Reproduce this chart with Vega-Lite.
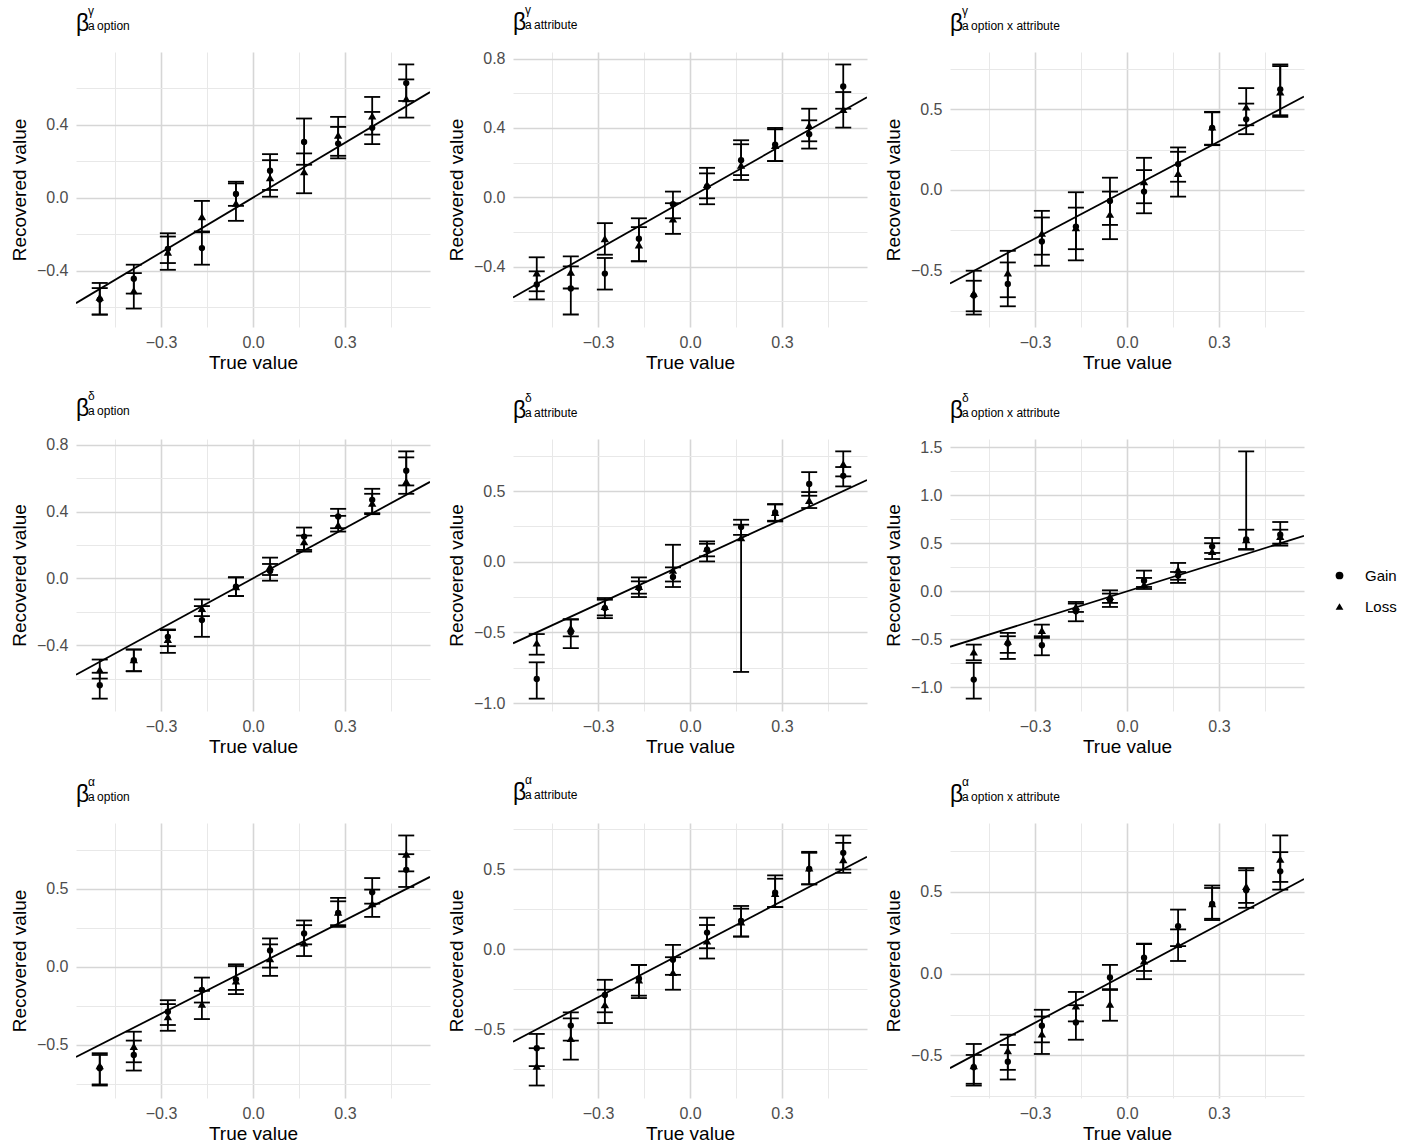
{
  "$schema": "https://vega.github.io/schema/vega-lite/v6.json",
  "background": "white",
  "padding": {"left": 10, "top": 3, "right": 5, "bottom": 5},
  "datasets": {
    "identity": [{"truth": -0.5775, "est": -0.5775}, {"truth": 0.5775, "est": 0.5775}],
    "estimates": [
      {"panel": "gamma option", "truth": -0.5, "group": "Gain", "est": -0.558, "lo": -0.64, "hi": -0.467},
      {"panel": "gamma option", "truth": -0.5, "group": "Loss", "est": -0.545, "lo": -0.64, "hi": -0.495},
      {"panel": "gamma option", "truth": -0.3889, "group": "Gain", "est": -0.444, "lo": -0.525, "hi": -0.367},
      {"panel": "gamma option", "truth": -0.3889, "group": "Loss", "est": -0.509, "lo": -0.607, "hi": -0.413},
      {"panel": "gamma option", "truth": -0.2778, "group": "Gain", "est": -0.28, "lo": -0.358, "hi": -0.195},
      {"panel": "gamma option", "truth": -0.2778, "group": "Loss", "est": -0.298, "lo": -0.395, "hi": -0.213},
      {"panel": "gamma option", "truth": -0.1667, "group": "Gain", "est": -0.276, "lo": -0.367, "hi": -0.185},
      {"panel": "gamma option", "truth": -0.1667, "group": "Loss", "est": -0.104, "lo": -0.19, "hi": -0.018},
      {"panel": "gamma option", "truth": -0.0556, "group": "Gain", "est": 0.02, "lo": -0.045, "hi": 0.087},
      {"panel": "gamma option", "truth": -0.0556, "group": "Loss", "est": -0.03, "lo": -0.127, "hi": 0.078},
      {"panel": "gamma option", "truth": 0.0556, "group": "Gain", "est": 0.147, "lo": 0.042, "hi": 0.238},
      {"panel": "gamma option", "truth": 0.0556, "group": "Loss", "est": 0.109, "lo": 0.005, "hi": 0.205},
      {"panel": "gamma option", "truth": 0.1667, "group": "Gain", "est": 0.305, "lo": 0.18, "hi": 0.433},
      {"panel": "gamma option", "truth": 0.1667, "group": "Loss", "est": 0.142, "lo": 0.024, "hi": 0.242},
      {"panel": "gamma option", "truth": 0.2778, "group": "Gain", "est": 0.296, "lo": 0.215, "hi": 0.387},
      {"panel": "gamma option", "truth": 0.2778, "group": "Loss", "est": 0.342, "lo": 0.229, "hi": 0.442},
      {"panel": "gamma option", "truth": 0.3889, "group": "Gain", "est": 0.382, "lo": 0.293, "hi": 0.469},
      {"panel": "gamma option", "truth": 0.3889, "group": "Loss", "est": 0.447, "lo": 0.345, "hi": 0.551},
      {"panel": "gamma option", "truth": 0.5, "group": "Gain", "est": 0.627, "lo": 0.529, "hi": 0.729},
      {"panel": "gamma option", "truth": 0.5, "group": "Loss", "est": 0.542, "lo": 0.438, "hi": 0.647},

      {"panel": "gamma attribute", "truth": -0.5, "group": "Gain", "est": -0.503, "lo": -0.589, "hi": -0.427},
      {"panel": "gamma attribute", "truth": -0.5, "group": "Loss", "est": -0.436, "lo": -0.542, "hi": -0.346},
      {"panel": "gamma attribute", "truth": -0.3889, "group": "Gain", "est": -0.526, "lo": -0.676, "hi": -0.398},
      {"panel": "gamma attribute", "truth": -0.3889, "group": "Loss", "est": -0.431, "lo": -0.526, "hi": -0.341},
      {"panel": "gamma attribute", "truth": -0.2778, "group": "Gain", "est": -0.44, "lo": -0.532, "hi": -0.35},
      {"panel": "gamma attribute", "truth": -0.2778, "group": "Loss", "est": -0.239, "lo": -0.331, "hi": -0.149},
      {"panel": "gamma attribute", "truth": -0.1667, "group": "Gain", "est": -0.239, "lo": -0.369, "hi": -0.121},
      {"panel": "gamma attribute", "truth": -0.1667, "group": "Loss", "est": -0.274, "lo": -0.369, "hi": -0.172},
      {"panel": "gamma attribute", "truth": -0.0556, "group": "Gain", "est": -0.04, "lo": -0.121, "hi": 0.033},
      {"panel": "gamma attribute", "truth": -0.0556, "group": "Loss", "est": -0.124, "lo": -0.211, "hi": -0.034},
      {"panel": "gamma attribute", "truth": 0.0556, "group": "Gain", "est": 0.061, "lo": -0.04, "hi": 0.17},
      {"panel": "gamma attribute", "truth": 0.0556, "group": "Loss", "est": 0.075, "lo": -0.006, "hi": 0.138},
      {"panel": "gamma attribute", "truth": 0.1667, "group": "Gain", "est": 0.214, "lo": 0.1, "hi": 0.329},
      {"panel": "gamma attribute", "truth": 0.1667, "group": "Loss", "est": 0.186, "lo": 0.128, "hi": 0.306},
      {"panel": "gamma attribute", "truth": 0.2778, "group": "Gain", "est": 0.304, "lo": 0.209, "hi": 0.4},
      {"panel": "gamma attribute", "truth": 0.2778, "group": "Loss", "est": 0.3, "lo": 0.209, "hi": 0.392},
      {"panel": "gamma attribute", "truth": 0.3889, "group": "Gain", "est": 0.364, "lo": 0.281, "hi": 0.444},
      {"panel": "gamma attribute", "truth": 0.3889, "group": "Loss", "est": 0.415, "lo": 0.323, "hi": 0.511},
      {"panel": "gamma attribute", "truth": 0.5, "group": "Gain", "est": 0.639, "lo": 0.511, "hi": 0.766},
      {"panel": "gamma attribute", "truth": 0.5, "group": "Loss", "est": 0.507, "lo": 0.402, "hi": 0.607},

      {"panel": "gamma interaction", "truth": -0.5, "group": "Gain", "est": -0.653, "lo": -0.77, "hi": -0.561},
      {"panel": "gamma interaction", "truth": -0.5, "group": "Loss", "est": -0.637, "lo": -0.75, "hi": -0.499},
      {"panel": "gamma interaction", "truth": -0.3889, "group": "Gain", "est": -0.581, "lo": -0.719, "hi": -0.448},
      {"panel": "gamma interaction", "truth": -0.3889, "group": "Loss", "est": -0.513, "lo": -0.663, "hi": -0.376},
      {"panel": "gamma interaction", "truth": -0.2778, "group": "Gain", "est": -0.318, "lo": -0.468, "hi": -0.17},
      {"panel": "gamma interaction", "truth": -0.2778, "group": "Loss", "est": -0.267, "lo": -0.4, "hi": -0.129},
      {"panel": "gamma interaction", "truth": -0.1667, "group": "Gain", "est": -0.226, "lo": -0.435, "hi": -0.014},
      {"panel": "gamma interaction", "truth": -0.1667, "group": "Loss", "est": -0.232, "lo": -0.366, "hi": -0.109},
      {"panel": "gamma interaction", "truth": -0.0556, "group": "Gain", "est": -0.068, "lo": -0.216, "hi": 0.076},
      {"panel": "gamma interaction", "truth": -0.0556, "group": "Loss", "est": -0.15, "lo": -0.304, "hi": -0.01},
      {"panel": "gamma interaction", "truth": 0.0556, "group": "Gain", "est": -0.01, "lo": -0.144, "hi": 0.123},
      {"panel": "gamma interaction", "truth": 0.0556, "group": "Loss", "est": 0.051, "lo": -0.082, "hi": 0.199},
      {"panel": "gamma interaction", "truth": 0.1667, "group": "Gain", "est": 0.16, "lo": 0.051, "hi": 0.263},
      {"panel": "gamma interaction", "truth": 0.1667, "group": "Loss", "est": 0.103, "lo": -0.041, "hi": 0.236},
      {"panel": "gamma interaction", "truth": 0.2778, "group": "Gain", "est": 0.384, "lo": 0.277, "hi": 0.483},
      {"panel": "gamma interaction", "truth": 0.2778, "group": "Loss", "est": 0.39, "lo": 0.28, "hi": 0.48},
      {"panel": "gamma interaction", "truth": 0.3889, "group": "Gain", "est": 0.437, "lo": 0.345, "hi": 0.534},
      {"panel": "gamma interaction", "truth": 0.3889, "group": "Loss", "est": 0.513, "lo": 0.4, "hi": 0.63},
      {"panel": "gamma interaction", "truth": 0.5, "group": "Gain", "est": 0.622, "lo": 0.452, "hi": 0.776},
      {"panel": "gamma interaction", "truth": 0.5, "group": "Loss", "est": 0.606, "lo": 0.462, "hi": 0.766},

      {"panel": "delta option", "truth": -0.5, "group": "Gain", "est": -0.64, "lo": -0.72, "hi": -0.565},
      {"panel": "delta option", "truth": -0.5, "group": "Loss", "est": -0.546, "lo": -0.6, "hi": -0.486},
      {"panel": "delta option", "truth": -0.3889, "group": "Gain", "est": -0.49, "lo": -0.556, "hi": -0.426},
      {"panel": "delta option", "truth": -0.3889, "group": "Loss", "est": -0.486, "lo": -0.556, "hi": -0.426},
      {"panel": "delta option", "truth": -0.2778, "group": "Gain", "est": -0.35, "lo": -0.406, "hi": -0.306},
      {"panel": "delta option", "truth": -0.2778, "group": "Loss", "est": -0.365, "lo": -0.446, "hi": -0.31},
      {"panel": "delta option", "truth": -0.1667, "group": "Gain", "est": -0.25, "lo": -0.35, "hi": -0.166},
      {"panel": "delta option", "truth": -0.1667, "group": "Loss", "est": -0.18, "lo": -0.226, "hi": -0.126},
      {"panel": "delta option", "truth": -0.0556, "group": "Gain", "est": -0.05, "lo": -0.106, "hi": 0.006},
      {"panel": "delta option", "truth": -0.0556, "group": "Loss", "est": -0.05, "lo": -0.106, "hi": 0.006},
      {"panel": "delta option", "truth": 0.0556, "group": "Gain", "est": 0.044, "lo": -0.014, "hi": 0.086},
      {"panel": "delta option", "truth": 0.0556, "group": "Loss", "est": 0.07, "lo": 0.02, "hi": 0.124},
      {"panel": "delta option", "truth": 0.1667, "group": "Gain", "est": 0.25, "lo": 0.17, "hi": 0.304},
      {"panel": "delta option", "truth": 0.1667, "group": "Loss", "est": 0.22, "lo": 0.16, "hi": 0.256},
      {"panel": "delta option", "truth": 0.2778, "group": "Gain", "est": 0.37, "lo": 0.3, "hi": 0.416},
      {"panel": "delta option", "truth": 0.2778, "group": "Loss", "est": 0.32, "lo": 0.28, "hi": 0.374},
      {"panel": "delta option", "truth": 0.3889, "group": "Gain", "est": 0.47, "lo": 0.39, "hi": 0.536},
      {"panel": "delta option", "truth": 0.3889, "group": "Loss", "est": 0.45, "lo": 0.384, "hi": 0.506},
      {"panel": "delta option", "truth": 0.5, "group": "Gain", "est": 0.644, "lo": 0.556, "hi": 0.76},
      {"panel": "delta option", "truth": 0.5, "group": "Loss", "est": 0.58, "lo": 0.506, "hi": 0.724},

      {"panel": "delta attribute", "truth": -0.5, "group": "Gain", "est": -0.83, "lo": -0.969, "hi": -0.712},
      {"panel": "delta attribute", "truth": -0.5, "group": "Loss", "est": -0.575, "lo": -0.658, "hi": -0.512},
      {"panel": "delta attribute", "truth": -0.3889, "group": "Gain", "est": -0.5, "lo": -0.611, "hi": -0.41},
      {"panel": "delta attribute", "truth": -0.3889, "group": "Loss", "est": -0.47, "lo": -0.528, "hi": -0.406},
      {"panel": "delta attribute", "truth": -0.2778, "group": "Gain", "est": -0.328, "lo": -0.399, "hi": -0.269},
      {"panel": "delta attribute", "truth": -0.2778, "group": "Loss", "est": -0.316, "lo": -0.38, "hi": -0.257},
      {"panel": "delta attribute", "truth": -0.1667, "group": "Gain", "est": -0.186, "lo": -0.25, "hi": -0.139},
      {"panel": "delta attribute", "truth": -0.1667, "group": "Loss", "est": -0.175, "lo": -0.226, "hi": -0.111},
      {"panel": "delta attribute", "truth": -0.0556, "group": "Gain", "est": -0.108, "lo": -0.179, "hi": -0.04},
      {"panel": "delta attribute", "truth": -0.0556, "group": "Loss", "est": -0.06, "lo": -0.14, "hi": 0.12},
      {"panel": "delta attribute", "truth": 0.0556, "group": "Gain", "est": 0.085, "lo": 0.002, "hi": 0.144},
      {"panel": "delta attribute", "truth": 0.0556, "group": "Loss", "est": 0.097, "lo": 0.038, "hi": 0.127},
      {"panel": "delta attribute", "truth": 0.1667, "group": "Gain", "est": 0.245, "lo": 0.19, "hi": 0.262},
      {"panel": "delta attribute", "truth": 0.1667, "group": "Loss", "est": 0.17, "lo": -0.78, "hi": 0.297},
      {"panel": "delta attribute", "truth": 0.2778, "group": "Gain", "est": 0.349, "lo": 0.285, "hi": 0.408},
      {"panel": "delta attribute", "truth": 0.2778, "group": "Loss", "est": 0.35, "lo": 0.29, "hi": 0.405},
      {"panel": "delta attribute", "truth": 0.3889, "group": "Gain", "est": 0.55, "lo": 0.467, "hi": 0.634},
      {"panel": "delta attribute", "truth": 0.3889, "group": "Loss", "est": 0.434, "lo": 0.38, "hi": 0.493},
      {"panel": "delta attribute", "truth": 0.5, "group": "Gain", "est": 0.608, "lo": 0.533, "hi": 0.67},
      {"panel": "delta attribute", "truth": 0.5, "group": "Loss", "est": 0.693, "lo": 0.604, "hi": 0.781},

      {"panel": "delta interaction", "truth": -0.5, "group": "Gain", "est": -0.919, "lo": -1.117, "hi": -0.745},
      {"panel": "delta interaction", "truth": -0.5, "group": "Loss", "est": -0.631, "lo": -0.718, "hi": -0.555},
      {"panel": "delta interaction", "truth": -0.3889, "group": "Gain", "est": -0.544, "lo": -0.704, "hi": -0.468},
      {"panel": "delta interaction", "truth": -0.3889, "group": "Loss", "est": -0.52, "lo": -0.641, "hi": -0.433},
      {"panel": "delta interaction", "truth": -0.2778, "group": "Gain", "est": -0.562, "lo": -0.666, "hi": -0.468},
      {"panel": "delta interaction", "truth": -0.2778, "group": "Loss", "est": -0.406, "lo": -0.485, "hi": -0.347},
      {"panel": "delta interaction", "truth": -0.1667, "group": "Gain", "est": -0.208, "lo": -0.312, "hi": -0.128},
      {"panel": "delta interaction", "truth": -0.1667, "group": "Loss", "est": -0.16, "lo": -0.215, "hi": -0.111},
      {"panel": "delta interaction", "truth": -0.0556, "group": "Gain", "est": -0.087, "lo": -0.163, "hi": -0.024},
      {"panel": "delta interaction", "truth": -0.0556, "group": "Loss", "est": -0.052, "lo": -0.121, "hi": 0.01},
      {"panel": "delta interaction", "truth": 0.0556, "group": "Gain", "est": 0.11, "lo": 0.045, "hi": 0.215},
      {"panel": "delta interaction", "truth": 0.0556, "group": "Loss", "est": 0.07, "lo": 0.024, "hi": 0.139},
      {"panel": "delta interaction", "truth": 0.1667, "group": "Gain", "est": 0.163, "lo": 0.087, "hi": 0.201},
      {"panel": "delta interaction", "truth": 0.1667, "group": "Loss", "est": 0.225, "lo": 0.12, "hi": 0.295},
      {"panel": "delta interaction", "truth": 0.2778, "group": "Gain", "est": 0.465, "lo": 0.399, "hi": 0.555},
      {"panel": "delta interaction", "truth": 0.2778, "group": "Loss", "est": 0.415, "lo": 0.336, "hi": 0.5},
      {"panel": "delta interaction", "truth": 0.3889, "group": "Gain", "est": 0.54, "lo": 0.44, "hi": 0.641},
      {"panel": "delta interaction", "truth": 0.3889, "group": "Loss", "est": 0.537, "lo": 0.433, "hi": 1.456},
      {"panel": "delta interaction", "truth": 0.5, "group": "Gain", "est": 0.589, "lo": 0.475, "hi": 0.721},
      {"panel": "delta interaction", "truth": 0.5, "group": "Loss", "est": 0.572, "lo": 0.496, "hi": 0.641},

      {"panel": "alpha option", "truth": -0.5, "group": "Gain", "est": -0.649, "lo": -0.76, "hi": -0.564},
      {"panel": "alpha option", "truth": -0.5, "group": "Loss", "est": -0.632, "lo": -0.753, "hi": -0.553},
      {"panel": "alpha option", "truth": -0.3889, "group": "Gain", "est": -0.564, "lo": -0.664, "hi": -0.472},
      {"panel": "alpha option", "truth": -0.3889, "group": "Loss", "est": -0.509, "lo": -0.611, "hi": -0.415},
      {"panel": "alpha option", "truth": -0.2778, "group": "Gain", "est": -0.287, "lo": -0.372, "hi": -0.213},
      {"panel": "alpha option", "truth": -0.2778, "group": "Loss", "est": -0.319, "lo": -0.409, "hi": -0.238},
      {"panel": "alpha option", "truth": -0.1667, "group": "Gain", "est": -0.147, "lo": -0.228, "hi": -0.068},
      {"panel": "alpha option", "truth": -0.1667, "group": "Loss", "est": -0.238, "lo": -0.334, "hi": -0.153},
      {"panel": "alpha option", "truth": -0.0556, "group": "Gain", "est": -0.079, "lo": -0.174, "hi": 0.017},
      {"panel": "alpha option", "truth": -0.0556, "group": "Loss", "est": -0.089, "lo": -0.147, "hi": 0.006},
      {"panel": "alpha option", "truth": 0.0556, "group": "Gain", "est": 0.106, "lo": -0.004, "hi": 0.183},
      {"panel": "alpha option", "truth": 0.0556, "group": "Loss", "est": 0.053, "lo": -0.057, "hi": 0.145},
      {"panel": "alpha option", "truth": 0.1667, "group": "Gain", "est": 0.215, "lo": 0.145, "hi": 0.298},
      {"panel": "alpha option", "truth": 0.1667, "group": "Loss", "est": 0.155, "lo": 0.07, "hi": 0.268},
      {"panel": "alpha option", "truth": 0.2778, "group": "Gain", "est": 0.347, "lo": 0.268, "hi": 0.443},
      {"panel": "alpha option", "truth": 0.2778, "group": "Loss", "est": 0.351, "lo": 0.257, "hi": 0.421},
      {"panel": "alpha option", "truth": 0.3889, "group": "Gain", "est": 0.479, "lo": 0.406, "hi": 0.57},
      {"panel": "alpha option", "truth": 0.3889, "group": "Loss", "est": 0.406, "lo": 0.321, "hi": 0.496},
      {"panel": "alpha option", "truth": 0.5, "group": "Gain", "est": 0.623, "lo": 0.513, "hi": 0.723},
      {"panel": "alpha option", "truth": 0.5, "group": "Loss", "est": 0.723, "lo": 0.613, "hi": 0.843},

      {"panel": "alpha attribute", "truth": -0.5, "group": "Gain", "est": -0.618, "lo": -0.73, "hi": -0.529},
      {"panel": "alpha attribute", "truth": -0.5, "group": "Loss", "est": -0.73, "lo": -0.851, "hi": -0.618},
      {"panel": "alpha attribute", "truth": -0.3889, "group": "Gain", "est": -0.477, "lo": -0.571, "hi": -0.394},
      {"panel": "alpha attribute", "truth": -0.3889, "group": "Loss", "est": -0.556, "lo": -0.689, "hi": -0.432},
      {"panel": "alpha attribute", "truth": -0.2778, "group": "Gain", "est": -0.286, "lo": -0.394, "hi": -0.191},
      {"panel": "alpha attribute", "truth": -0.2778, "group": "Loss", "est": -0.346, "lo": -0.461, "hi": -0.253},
      {"panel": "alpha attribute", "truth": -0.1667, "group": "Gain", "est": -0.183, "lo": -0.29, "hi": -0.098},
      {"panel": "alpha attribute", "truth": -0.1667, "group": "Loss", "est": -0.191, "lo": -0.305, "hi": -0.098},
      {"panel": "alpha attribute", "truth": -0.0556, "group": "Gain", "est": -0.066, "lo": -0.16, "hi": 0.027},
      {"panel": "alpha attribute", "truth": -0.0556, "group": "Loss", "est": -0.145, "lo": -0.253, "hi": -0.05},
      {"panel": "alpha attribute", "truth": 0.0556, "group": "Gain", "est": 0.104, "lo": 0.006, "hi": 0.197},
      {"panel": "alpha attribute", "truth": 0.0556, "group": "Loss", "est": 0.052, "lo": -0.058, "hi": 0.151},
      {"panel": "alpha attribute", "truth": 0.1667, "group": "Gain", "est": 0.176, "lo": 0.079, "hi": 0.27},
      {"panel": "alpha attribute", "truth": 0.1667, "group": "Loss", "est": 0.17, "lo": 0.079, "hi": 0.253},
      {"panel": "alpha attribute", "truth": 0.2778, "group": "Gain", "est": 0.353, "lo": 0.263, "hi": 0.461},
      {"panel": "alpha attribute", "truth": 0.2778, "group": "Loss", "est": 0.349, "lo": 0.263, "hi": 0.44},
      {"panel": "alpha attribute", "truth": 0.3889, "group": "Gain", "est": 0.502, "lo": 0.405, "hi": 0.608},
      {"panel": "alpha attribute", "truth": 0.3889, "group": "Loss", "est": 0.508, "lo": 0.405, "hi": 0.602},
      {"panel": "alpha attribute", "truth": 0.5, "group": "Gain", "est": 0.602, "lo": 0.498, "hi": 0.71},
      {"panel": "alpha attribute", "truth": 0.5, "group": "Loss", "est": 0.56, "lo": 0.477, "hi": 0.664},

      {"panel": "alpha interaction", "truth": -0.5, "group": "Gain", "est": -0.572, "lo": -0.684, "hi": -0.43},
      {"panel": "alpha interaction", "truth": -0.5, "group": "Loss", "est": -0.562, "lo": -0.673, "hi": -0.497},
      {"panel": "alpha interaction", "truth": -0.3889, "group": "Gain", "est": -0.538, "lo": -0.647, "hi": -0.436},
      {"panel": "alpha interaction", "truth": -0.3889, "group": "Loss", "est": -0.471, "lo": -0.588, "hi": -0.373},
      {"panel": "alpha interaction", "truth": -0.2778, "group": "Gain", "est": -0.318, "lo": -0.42, "hi": -0.221},
      {"panel": "alpha interaction", "truth": -0.2778, "group": "Loss", "est": -0.369, "lo": -0.491, "hi": -0.262},
      {"panel": "alpha interaction", "truth": -0.1667, "group": "Gain", "est": -0.298, "lo": -0.404, "hi": -0.193},
      {"panel": "alpha interaction", "truth": -0.1667, "group": "Loss", "est": -0.197, "lo": -0.292, "hi": -0.112},
      {"panel": "alpha interaction", "truth": -0.0556, "group": "Gain", "est": -0.024, "lo": -0.1, "hi": 0.053},
      {"panel": "alpha interaction", "truth": -0.0556, "group": "Loss", "est": -0.187, "lo": -0.288, "hi": -0.095},
      {"panel": "alpha interaction", "truth": 0.0556, "group": "Gain", "est": 0.097, "lo": 0.016, "hi": 0.183},
      {"panel": "alpha interaction", "truth": 0.0556, "group": "Loss", "est": 0.077, "lo": -0.034, "hi": 0.18},
      {"panel": "alpha interaction", "truth": 0.1667, "group": "Gain", "est": 0.29, "lo": 0.168, "hi": 0.391},
      {"panel": "alpha interaction", "truth": 0.1667, "group": "Loss", "est": 0.178, "lo": 0.077, "hi": 0.27},
      {"panel": "alpha interaction", "truth": 0.2778, "group": "Gain", "est": 0.425, "lo": 0.327, "hi": 0.538},
      {"panel": "alpha interaction", "truth": 0.2778, "group": "Loss", "est": 0.428, "lo": 0.335, "hi": 0.523},
      {"panel": "alpha interaction", "truth": 0.3889, "group": "Gain", "est": 0.509, "lo": 0.402, "hi": 0.631},
      {"panel": "alpha interaction", "truth": 0.3889, "group": "Loss", "est": 0.533, "lo": 0.432, "hi": 0.645},
      {"panel": "alpha interaction", "truth": 0.5, "group": "Gain", "est": 0.625, "lo": 0.513, "hi": 0.742},
      {"panel": "alpha interaction", "truth": 0.5, "group": "Loss", "est": 0.7, "lo": 0.56, "hi": 0.844}
    ]
  },
  "data": {"name": "estimates"},
  "columns": 3,
  "bounds": "flush",
  "spacing": {"row": 112, "column": 83},
  "resolve": {"scale": {"x": "independent", "y": "independent", "shape": "shared"}},
  "concat": [
    {
      "width": 354, "height": 275,
      "title": {"text": "β", "subtitle": ["γ", "a\u2009option"], "dx": 12, "encoding": {"dx": {"value": 0}}},
      "encoding": {
        "x": {"field": "truth", "type": "quantitative", "title": "True value", "scale": {"domain": [-0.5775, 0.5775], "nice": false, "zero": false},
              "axis": {"values": [-0.45, -0.3, -0.15, 0, 0.15, 0.3, 0.45], "labelExpr": "indexof([-0.3,0,0.3], datum.value) >= 0 ? format(datum.value, '.1f') : ''",
                       "gridColor": {"condition": {"test": "indexof([-0.3,0,0.3], datum.value) >= 0", "value": "#d6d6d6"}, "value": "#e8e8e8"},
                       "gridWidth": {"condition": {"test": "indexof([-0.3,0,0.3], datum.value) >= 0", "value": 1.6}, "value": 1}}},
        "y": {"field": "est", "type": "quantitative", "title": "Recovered value", "scale": {"domain": [-0.708, 0.797], "nice": false, "zero": false},
              "axis": {"values": [-0.6, -0.4, -0.2, 0, 0.2, 0.4, 0.6], "labelExpr": "indexof([-0.4,0,0.4,0.8], datum.value) >= 0 ? format(datum.value, '.1f') : ''",
                       "gridColor": {"condition": {"test": "indexof([-0.4,0,0.4,0.8], datum.value) >= 0", "value": "#d6d6d6"}, "value": "#e8e8e8"},
                       "gridWidth": {"condition": {"test": "indexof([-0.4,0,0.4,0.8], datum.value) >= 0", "value": 1.6}, "value": 1}}}
      },
      "layer": [
        {"data": {"name": "identity"}, "mark": {"type": "line", "clip": true, "color": "black", "strokeWidth": 1.8}},
        {"transform": [{"filter": "datum.panel == 'gamma option'"}],
         "layer": [
          {"mark": {"type": "rule", "color": "black", "strokeWidth": 1.8}, "encoding": {"y": {"field": "lo", "type": "quantitative", "title": "Recovered value"}, "y2": {"field": "hi"}}},
          {"mark": {"type": "tick", "orient": "horizontal", "size": 16, "thickness": 1.8, "color": "black", "opacity": 1}, "encoding": {"y": {"field": "lo", "type": "quantitative", "title": "Recovered value"}}},
          {"mark": {"type": "tick", "orient": "horizontal", "size": 16, "thickness": 1.8, "color": "black", "opacity": 1}, "encoding": {"y": {"field": "hi", "type": "quantitative", "title": "Recovered value"}}},
          {"mark": {"type": "point", "filled": true, "color": "black", "opacity": 1},
           "encoding": {"shape": {"field": "group", "type": "nominal", "title": null, "scale": {"domain": ["Gain", "Loss"], "range": ["circle", "triangle-up"]},
                                  "legend": {"orient": "none", "legendX": 1256, "legendY": 516, "labelFontSize": 15, "labelColor": "black", "symbolSize": 60, "symbolFillColor": "black", "symbolStrokeWidth": 0, "rowPadding": 15, "labelOffset": 18}},
                        "size": {"condition": {"test": "datum.group == 'Loss'", "value": 70}, "value": 40}}}
         ]}
      ]
    },
    {
      "width": 354, "height": 275,
      "title": {"text": "β", "subtitle": ["γ", "a\u2009attribute"], "dx": 12, "encoding": {"dx": {"value": 0}}},
      "encoding": {
        "x": {"field": "truth", "type": "quantitative", "title": "True value", "scale": {"domain": [-0.5775, 0.5775], "nice": false, "zero": false},
              "axis": {"values": [-0.45, -0.3, -0.15, 0, 0.15, 0.3, 0.45], "labelExpr": "indexof([-0.3,0,0.3], datum.value) >= 0 ? format(datum.value, '.1f') : ''",
                       "gridColor": {"condition": {"test": "indexof([-0.3,0,0.3], datum.value) >= 0", "value": "#d6d6d6"}, "value": "#e8e8e8"},
                       "gridWidth": {"condition": {"test": "indexof([-0.3,0,0.3], datum.value) >= 0", "value": 1.6}, "value": 1}}},
        "y": {"field": "est", "type": "quantitative", "title": "Recovered value", "scale": {"domain": [-0.748, 0.838], "nice": false, "zero": false},
              "axis": {"values": [-0.6, -0.4, -0.2, 0, 0.2, 0.4, 0.6, 0.8], "labelExpr": "indexof([-0.4,0,0.4,0.8], datum.value) >= 0 ? format(datum.value, '.1f') : ''",
                       "gridColor": {"condition": {"test": "indexof([-0.4,0,0.4,0.8], datum.value) >= 0", "value": "#d6d6d6"}, "value": "#e8e8e8"},
                       "gridWidth": {"condition": {"test": "indexof([-0.4,0,0.4,0.8], datum.value) >= 0", "value": 1.6}, "value": 1}}}
      },
      "layer": [
        {"data": {"name": "identity"}, "mark": {"type": "line", "clip": true, "color": "black", "strokeWidth": 1.8}},
        {"transform": [{"filter": "datum.panel == 'gamma attribute'"}],
         "layer": [
          {"mark": {"type": "rule", "color": "black", "strokeWidth": 1.8}, "encoding": {"y": {"field": "lo", "type": "quantitative", "title": "Recovered value"}, "y2": {"field": "hi"}}},
          {"mark": {"type": "tick", "orient": "horizontal", "size": 16, "thickness": 1.8, "color": "black", "opacity": 1}, "encoding": {"y": {"field": "lo", "type": "quantitative", "title": "Recovered value"}}},
          {"mark": {"type": "tick", "orient": "horizontal", "size": 16, "thickness": 1.8, "color": "black", "opacity": 1}, "encoding": {"y": {"field": "hi", "type": "quantitative", "title": "Recovered value"}}},
          {"mark": {"type": "point", "filled": true, "color": "black", "opacity": 1},
           "encoding": {"shape": {"field": "group", "type": "nominal", "title": null, "scale": {"domain": ["Gain", "Loss"], "range": ["circle", "triangle-up"]},
                                  "legend": {"orient": "none", "legendX": 1256, "legendY": 516, "labelFontSize": 15, "labelColor": "black", "symbolSize": 60, "symbolFillColor": "black", "symbolStrokeWidth": 0, "rowPadding": 15, "labelOffset": 18}},
                        "size": {"condition": {"test": "datum.group == 'Loss'", "value": 70}, "value": 40}}}
         ]}
      ]
    },
    {
      "width": 354, "height": 275,
      "title": {"text": "β", "subtitle": ["γ", "a\u2009option x attribute"], "dx": 12, "encoding": {"dx": {"value": 0}}},
      "encoding": {
        "x": {"field": "truth", "type": "quantitative", "title": "True value", "scale": {"domain": [-0.5775, 0.5775], "nice": false, "zero": false},
              "axis": {"values": [-0.45, -0.3, -0.15, 0, 0.15, 0.3, 0.45], "labelExpr": "indexof([-0.3,0,0.3], datum.value) >= 0 ? format(datum.value, '.1f') : ''",
                       "gridColor": {"condition": {"test": "indexof([-0.3,0,0.3], datum.value) >= 0", "value": "#d6d6d6"}, "value": "#e8e8e8"},
                       "gridWidth": {"condition": {"test": "indexof([-0.3,0,0.3], datum.value) >= 0", "value": 1.6}, "value": 1}}},
        "y": {"field": "est", "type": "quantitative", "title": "Recovered value", "scale": {"domain": [-0.847, 0.853], "nice": false, "zero": false},
              "axis": {"values": [-0.75, -0.5, -0.25, 0, 0.25, 0.5, 0.75], "labelExpr": "indexof([-1,-0.5,0,0.5,1,1.5], datum.value) >= 0 ? format(datum.value, '.1f') : ''",
                       "gridColor": {"condition": {"test": "indexof([-1,-0.5,0,0.5,1,1.5], datum.value) >= 0", "value": "#d6d6d6"}, "value": "#e8e8e8"},
                       "gridWidth": {"condition": {"test": "indexof([-1,-0.5,0,0.5,1,1.5], datum.value) >= 0", "value": 1.6}, "value": 1}}}
      },
      "layer": [
        {"data": {"name": "identity"}, "mark": {"type": "line", "clip": true, "color": "black", "strokeWidth": 1.8}},
        {"transform": [{"filter": "datum.panel == 'gamma interaction'"}],
         "layer": [
          {"mark": {"type": "rule", "color": "black", "strokeWidth": 1.8}, "encoding": {"y": {"field": "lo", "type": "quantitative", "title": "Recovered value"}, "y2": {"field": "hi"}}},
          {"mark": {"type": "tick", "orient": "horizontal", "size": 16, "thickness": 1.8, "color": "black", "opacity": 1}, "encoding": {"y": {"field": "lo", "type": "quantitative", "title": "Recovered value"}}},
          {"mark": {"type": "tick", "orient": "horizontal", "size": 16, "thickness": 1.8, "color": "black", "opacity": 1}, "encoding": {"y": {"field": "hi", "type": "quantitative", "title": "Recovered value"}}},
          {"mark": {"type": "point", "filled": true, "color": "black", "opacity": 1},
           "encoding": {"shape": {"field": "group", "type": "nominal", "title": null, "scale": {"domain": ["Gain", "Loss"], "range": ["circle", "triangle-up"]},
                                  "legend": {"orient": "none", "legendX": 1256, "legendY": 516, "labelFontSize": 15, "labelColor": "black", "symbolSize": 60, "symbolFillColor": "black", "symbolStrokeWidth": 0, "rowPadding": 15, "labelOffset": 18}},
                        "size": {"condition": {"test": "datum.group == 'Loss'", "value": 70}, "value": 40}}}
         ]}
      ]
    },
    {
      "width": 354, "height": 272,
      "title": {"text": "β", "subtitle": ["δ", "a\u2009option"], "dx": 12, "encoding": {"dx": {"value": 0}}},
      "encoding": {
        "x": {"field": "truth", "type": "quantitative", "title": "True value", "scale": {"domain": [-0.5775, 0.5775], "nice": false, "zero": false},
              "axis": {"values": [-0.45, -0.3, -0.15, 0, 0.15, 0.3, 0.45], "labelExpr": "indexof([-0.3,0,0.3], datum.value) >= 0 ? format(datum.value, '.1f') : ''",
                       "gridColor": {"condition": {"test": "indexof([-0.3,0,0.3], datum.value) >= 0", "value": "#d6d6d6"}, "value": "#e8e8e8"},
                       "gridWidth": {"condition": {"test": "indexof([-0.3,0,0.3], datum.value) >= 0", "value": 1.6}, "value": 1}}},
        "y": {"field": "est", "type": "quantitative", "title": "Recovered value", "scale": {"domain": [-0.794, 0.834], "nice": false, "zero": false},
              "axis": {"values": [-0.6, -0.4, -0.2, 0, 0.2, 0.4, 0.6, 0.8], "labelExpr": "indexof([-0.4,0,0.4,0.8], datum.value) >= 0 ? format(datum.value, '.1f') : ''",
                       "gridColor": {"condition": {"test": "indexof([-0.4,0,0.4,0.8], datum.value) >= 0", "value": "#d6d6d6"}, "value": "#e8e8e8"},
                       "gridWidth": {"condition": {"test": "indexof([-0.4,0,0.4,0.8], datum.value) >= 0", "value": 1.6}, "value": 1}}}
      },
      "layer": [
        {"data": {"name": "identity"}, "mark": {"type": "line", "clip": true, "color": "black", "strokeWidth": 1.8}},
        {"transform": [{"filter": "datum.panel == 'delta option'"}],
         "layer": [
          {"mark": {"type": "rule", "color": "black", "strokeWidth": 1.8}, "encoding": {"y": {"field": "lo", "type": "quantitative", "title": "Recovered value"}, "y2": {"field": "hi"}}},
          {"mark": {"type": "tick", "orient": "horizontal", "size": 16, "thickness": 1.8, "color": "black", "opacity": 1}, "encoding": {"y": {"field": "lo", "type": "quantitative", "title": "Recovered value"}}},
          {"mark": {"type": "tick", "orient": "horizontal", "size": 16, "thickness": 1.8, "color": "black", "opacity": 1}, "encoding": {"y": {"field": "hi", "type": "quantitative", "title": "Recovered value"}}},
          {"mark": {"type": "point", "filled": true, "color": "black", "opacity": 1},
           "encoding": {"shape": {"field": "group", "type": "nominal", "title": null, "scale": {"domain": ["Gain", "Loss"], "range": ["circle", "triangle-up"]},
                                  "legend": {"orient": "none", "legendX": 1256, "legendY": 516, "labelFontSize": 15, "labelColor": "black", "symbolSize": 60, "symbolFillColor": "black", "symbolStrokeWidth": 0, "rowPadding": 15, "labelOffset": 18}},
                        "size": {"condition": {"test": "datum.group == 'Loss'", "value": 70}, "value": 40}}}
         ]}
      ]
    },
    {
      "width": 354, "height": 272,
      "title": {"text": "β", "subtitle": ["δ", "a\u2009attribute"], "dx": 12, "encoding": {"dx": {"value": 0}}},
      "encoding": {
        "x": {"field": "truth", "type": "quantitative", "title": "True value", "scale": {"domain": [-0.5775, 0.5775], "nice": false, "zero": false},
              "axis": {"values": [-0.45, -0.3, -0.15, 0, 0.15, 0.3, 0.45], "labelExpr": "indexof([-0.3,0,0.3], datum.value) >= 0 ? format(datum.value, '.1f') : ''",
                       "gridColor": {"condition": {"test": "indexof([-0.3,0,0.3], datum.value) >= 0", "value": "#d6d6d6"}, "value": "#e8e8e8"},
                       "gridWidth": {"condition": {"test": "indexof([-0.3,0,0.3], datum.value) >= 0", "value": 1.6}, "value": 1}}},
        "y": {"field": "est", "type": "quantitative", "title": "Recovered value", "scale": {"domain": [-1.0565, 0.8685], "nice": false, "zero": false},
              "axis": {"values": [-1, -0.75, -0.5, -0.25, 0, 0.25, 0.5, 0.75], "labelExpr": "indexof([-1,-0.5,0,0.5,1,1.5], datum.value) >= 0 ? format(datum.value, '.1f') : ''",
                       "gridColor": {"condition": {"test": "indexof([-1,-0.5,0,0.5,1,1.5], datum.value) >= 0", "value": "#d6d6d6"}, "value": "#e8e8e8"},
                       "gridWidth": {"condition": {"test": "indexof([-1,-0.5,0,0.5,1,1.5], datum.value) >= 0", "value": 1.6}, "value": 1}}}
      },
      "layer": [
        {"data": {"name": "identity"}, "mark": {"type": "line", "clip": true, "color": "black", "strokeWidth": 1.8}},
        {"transform": [{"filter": "datum.panel == 'delta attribute'"}],
         "layer": [
          {"mark": {"type": "rule", "color": "black", "strokeWidth": 1.8}, "encoding": {"y": {"field": "lo", "type": "quantitative", "title": "Recovered value"}, "y2": {"field": "hi"}}},
          {"mark": {"type": "tick", "orient": "horizontal", "size": 16, "thickness": 1.8, "color": "black", "opacity": 1}, "encoding": {"y": {"field": "lo", "type": "quantitative", "title": "Recovered value"}}},
          {"mark": {"type": "tick", "orient": "horizontal", "size": 16, "thickness": 1.8, "color": "black", "opacity": 1}, "encoding": {"y": {"field": "hi", "type": "quantitative", "title": "Recovered value"}}},
          {"mark": {"type": "point", "filled": true, "color": "black", "opacity": 1},
           "encoding": {"shape": {"field": "group", "type": "nominal", "title": null, "scale": {"domain": ["Gain", "Loss"], "range": ["circle", "triangle-up"]},
                                  "legend": {"orient": "none", "legendX": 1256, "legendY": 516, "labelFontSize": 15, "labelColor": "black", "symbolSize": 60, "symbolFillColor": "black", "symbolStrokeWidth": 0, "rowPadding": 15, "labelOffset": 18}},
                        "size": {"condition": {"test": "datum.group == 'Loss'", "value": 70}, "value": 40}}}
         ]}
      ]
    },
    {
      "width": 354, "height": 272,
      "title": {"text": "β", "subtitle": ["δ", "a\u2009option x attribute"], "dx": 12, "encoding": {"dx": {"value": 0}}},
      "encoding": {
        "x": {"field": "truth", "type": "quantitative", "title": "True value", "scale": {"domain": [-0.5775, 0.5775], "nice": false, "zero": false},
              "axis": {"values": [-0.45, -0.3, -0.15, 0, 0.15, 0.3, 0.45], "labelExpr": "indexof([-0.3,0,0.3], datum.value) >= 0 ? format(datum.value, '.1f') : ''",
                       "gridColor": {"condition": {"test": "indexof([-0.3,0,0.3], datum.value) >= 0", "value": "#d6d6d6"}, "value": "#e8e8e8"},
                       "gridWidth": {"condition": {"test": "indexof([-0.3,0,0.3], datum.value) >= 0", "value": 1.6}, "value": 1}}},
        "y": {"field": "est", "type": "quantitative", "title": "Recovered value", "scale": {"domain": [-1.246, 1.585], "nice": false, "zero": false},
              "axis": {"values": [-1, -0.75, -0.5, -0.25, 0, 0.25, 0.5, 0.75, 1, 1.25, 1.5], "labelExpr": "indexof([-1,-0.5,0,0.5,1,1.5], datum.value) >= 0 ? format(datum.value, '.1f') : ''",
                       "gridColor": {"condition": {"test": "indexof([-1,-0.5,0,0.5,1,1.5], datum.value) >= 0", "value": "#d6d6d6"}, "value": "#e8e8e8"},
                       "gridWidth": {"condition": {"test": "indexof([-1,-0.5,0,0.5,1,1.5], datum.value) >= 0", "value": 1.6}, "value": 1}}}
      },
      "layer": [
        {"data": {"name": "identity"}, "mark": {"type": "line", "clip": true, "color": "black", "strokeWidth": 1.8}},
        {"transform": [{"filter": "datum.panel == 'delta interaction'"}],
         "layer": [
          {"mark": {"type": "rule", "color": "black", "strokeWidth": 1.8}, "encoding": {"y": {"field": "lo", "type": "quantitative", "title": "Recovered value"}, "y2": {"field": "hi"}}},
          {"mark": {"type": "tick", "orient": "horizontal", "size": 16, "thickness": 1.8, "color": "black", "opacity": 1}, "encoding": {"y": {"field": "lo", "type": "quantitative", "title": "Recovered value"}}},
          {"mark": {"type": "tick", "orient": "horizontal", "size": 16, "thickness": 1.8, "color": "black", "opacity": 1}, "encoding": {"y": {"field": "hi", "type": "quantitative", "title": "Recovered value"}}},
          {"mark": {"type": "point", "filled": true, "color": "black", "opacity": 1},
           "encoding": {"shape": {"field": "group", "type": "nominal", "title": null, "scale": {"domain": ["Gain", "Loss"], "range": ["circle", "triangle-up"]},
                                  "legend": {"orient": "none", "legendX": 1256, "legendY": 516, "labelFontSize": 15, "labelColor": "black", "symbolSize": 60, "symbolFillColor": "black", "symbolStrokeWidth": 0, "rowPadding": 15, "labelOffset": 18}},
                        "size": {"condition": {"test": "datum.group == 'Loss'", "value": 70}, "value": 40}}}
         ]}
      ]
    },
    {
      "width": 354, "height": 275,
      "title": {"text": "β", "subtitle": ["α", "a\u2009option"], "dx": 12, "encoding": {"dx": {"value": 0}}},
      "encoding": {
        "x": {"field": "truth", "type": "quantitative", "title": "True value", "scale": {"domain": [-0.5775, 0.5775], "nice": false, "zero": false},
              "axis": {"values": [-0.45, -0.3, -0.15, 0, 0.15, 0.3, 0.45], "labelExpr": "indexof([-0.3,0,0.3], datum.value) >= 0 ? format(datum.value, '.1f') : ''",
                       "gridColor": {"condition": {"test": "indexof([-0.3,0,0.3], datum.value) >= 0", "value": "#d6d6d6"}, "value": "#e8e8e8"},
                       "gridWidth": {"condition": {"test": "indexof([-0.3,0,0.3], datum.value) >= 0", "value": 1.6}, "value": 1}}},
        "y": {"field": "est", "type": "quantitative", "title": "Recovered value", "scale": {"domain": [-0.84, 0.923], "nice": false, "zero": false},
              "axis": {"values": [-0.75, -0.5, -0.25, 0, 0.25, 0.5, 0.75], "labelExpr": "indexof([-1,-0.5,0,0.5,1,1.5], datum.value) >= 0 ? format(datum.value, '.1f') : ''",
                       "gridColor": {"condition": {"test": "indexof([-1,-0.5,0,0.5,1,1.5], datum.value) >= 0", "value": "#d6d6d6"}, "value": "#e8e8e8"},
                       "gridWidth": {"condition": {"test": "indexof([-1,-0.5,0,0.5,1,1.5], datum.value) >= 0", "value": 1.6}, "value": 1}}}
      },
      "layer": [
        {"data": {"name": "identity"}, "mark": {"type": "line", "clip": true, "color": "black", "strokeWidth": 1.8}},
        {"transform": [{"filter": "datum.panel == 'alpha option'"}],
         "layer": [
          {"mark": {"type": "rule", "color": "black", "strokeWidth": 1.8}, "encoding": {"y": {"field": "lo", "type": "quantitative", "title": "Recovered value"}, "y2": {"field": "hi"}}},
          {"mark": {"type": "tick", "orient": "horizontal", "size": 16, "thickness": 1.8, "color": "black", "opacity": 1}, "encoding": {"y": {"field": "lo", "type": "quantitative", "title": "Recovered value"}}},
          {"mark": {"type": "tick", "orient": "horizontal", "size": 16, "thickness": 1.8, "color": "black", "opacity": 1}, "encoding": {"y": {"field": "hi", "type": "quantitative", "title": "Recovered value"}}},
          {"mark": {"type": "point", "filled": true, "color": "black", "opacity": 1},
           "encoding": {"shape": {"field": "group", "type": "nominal", "title": null, "scale": {"domain": ["Gain", "Loss"], "range": ["circle", "triangle-up"]},
                                  "legend": {"orient": "none", "legendX": 1256, "legendY": 516, "labelFontSize": 15, "labelColor": "black", "symbolSize": 60, "symbolFillColor": "black", "symbolStrokeWidth": 0, "rowPadding": 15, "labelOffset": 18}},
                        "size": {"condition": {"test": "datum.group == 'Loss'", "value": 70}, "value": 40}}}
         ]}
      ]
    },
    {
      "width": 354, "height": 275,
      "title": {"text": "β", "subtitle": ["α", "a\u2009attribute"], "dx": 12, "encoding": {"dx": {"value": 0}}},
      "encoding": {
        "x": {"field": "truth", "type": "quantitative", "title": "True value", "scale": {"domain": [-0.5775, 0.5775], "nice": false, "zero": false},
              "axis": {"values": [-0.45, -0.3, -0.15, 0, 0.15, 0.3, 0.45], "labelExpr": "indexof([-0.3,0,0.3], datum.value) >= 0 ? format(datum.value, '.1f') : ''",
                       "gridColor": {"condition": {"test": "indexof([-0.3,0,0.3], datum.value) >= 0", "value": "#d6d6d6"}, "value": "#e8e8e8"},
                       "gridWidth": {"condition": {"test": "indexof([-0.3,0,0.3], datum.value) >= 0", "value": 1.6}, "value": 1}}},
        "y": {"field": "est", "type": "quantitative", "title": "Recovered value", "scale": {"domain": [-0.929, 0.788], "nice": false, "zero": false},
              "axis": {"values": [-0.75, -0.5, -0.25, 0, 0.25, 0.5, 0.75], "labelExpr": "indexof([-1,-0.5,0,0.5,1,1.5], datum.value) >= 0 ? format(datum.value, '.1f') : ''",
                       "gridColor": {"condition": {"test": "indexof([-1,-0.5,0,0.5,1,1.5], datum.value) >= 0", "value": "#d6d6d6"}, "value": "#e8e8e8"},
                       "gridWidth": {"condition": {"test": "indexof([-1,-0.5,0,0.5,1,1.5], datum.value) >= 0", "value": 1.6}, "value": 1}}}
      },
      "layer": [
        {"data": {"name": "identity"}, "mark": {"type": "line", "clip": true, "color": "black", "strokeWidth": 1.8}},
        {"transform": [{"filter": "datum.panel == 'alpha attribute'"}],
         "layer": [
          {"mark": {"type": "rule", "color": "black", "strokeWidth": 1.8}, "encoding": {"y": {"field": "lo", "type": "quantitative", "title": "Recovered value"}, "y2": {"field": "hi"}}},
          {"mark": {"type": "tick", "orient": "horizontal", "size": 16, "thickness": 1.8, "color": "black", "opacity": 1}, "encoding": {"y": {"field": "lo", "type": "quantitative", "title": "Recovered value"}}},
          {"mark": {"type": "tick", "orient": "horizontal", "size": 16, "thickness": 1.8, "color": "black", "opacity": 1}, "encoding": {"y": {"field": "hi", "type": "quantitative", "title": "Recovered value"}}},
          {"mark": {"type": "point", "filled": true, "color": "black", "opacity": 1},
           "encoding": {"shape": {"field": "group", "type": "nominal", "title": null, "scale": {"domain": ["Gain", "Loss"], "range": ["circle", "triangle-up"]},
                                  "legend": {"orient": "none", "legendX": 1256, "legendY": 516, "labelFontSize": 15, "labelColor": "black", "symbolSize": 60, "symbolFillColor": "black", "symbolStrokeWidth": 0, "rowPadding": 15, "labelOffset": 18}},
                        "size": {"condition": {"test": "datum.group == 'Loss'", "value": 70}, "value": 40}}}
         ]}
      ]
    },
    {
      "width": 354, "height": 275,
      "title": {"text": "β", "subtitle": ["α", "a\u2009option x attribute"], "dx": 12, "encoding": {"dx": {"value": 0}}},
      "encoding": {
        "x": {"field": "truth", "type": "quantitative", "title": "True value", "scale": {"domain": [-0.5775, 0.5775], "nice": false, "zero": false},
              "axis": {"values": [-0.45, -0.3, -0.15, 0, 0.15, 0.3, 0.45], "labelExpr": "indexof([-0.3,0,0.3], datum.value) >= 0 ? format(datum.value, '.1f') : ''",
                       "gridColor": {"condition": {"test": "indexof([-0.3,0,0.3], datum.value) >= 0", "value": "#d6d6d6"}, "value": "#e8e8e8"},
                       "gridWidth": {"condition": {"test": "indexof([-0.3,0,0.3], datum.value) >= 0", "value": 1.6}, "value": 1}}},
        "y": {"field": "est", "type": "quantitative", "title": "Recovered value", "scale": {"domain": [-0.76, 0.92], "nice": false, "zero": false},
              "axis": {"values": [-0.75, -0.5, -0.25, 0, 0.25, 0.5, 0.75], "labelExpr": "indexof([-1,-0.5,0,0.5,1,1.5], datum.value) >= 0 ? format(datum.value, '.1f') : ''",
                       "gridColor": {"condition": {"test": "indexof([-1,-0.5,0,0.5,1,1.5], datum.value) >= 0", "value": "#d6d6d6"}, "value": "#e8e8e8"},
                       "gridWidth": {"condition": {"test": "indexof([-1,-0.5,0,0.5,1,1.5], datum.value) >= 0", "value": 1.6}, "value": 1}}}
      },
      "layer": [
        {"data": {"name": "identity"}, "mark": {"type": "line", "clip": true, "color": "black", "strokeWidth": 1.8}},
        {"transform": [{"filter": "datum.panel == 'alpha interaction'"}],
         "layer": [
          {"mark": {"type": "rule", "color": "black", "strokeWidth": 1.8}, "encoding": {"y": {"field": "lo", "type": "quantitative", "title": "Recovered value"}, "y2": {"field": "hi"}}},
          {"mark": {"type": "tick", "orient": "horizontal", "size": 16, "thickness": 1.8, "color": "black", "opacity": 1}, "encoding": {"y": {"field": "lo", "type": "quantitative", "title": "Recovered value"}}},
          {"mark": {"type": "tick", "orient": "horizontal", "size": 16, "thickness": 1.8, "color": "black", "opacity": 1}, "encoding": {"y": {"field": "hi", "type": "quantitative", "title": "Recovered value"}}},
          {"mark": {"type": "point", "filled": true, "color": "black", "opacity": 1},
           "encoding": {"shape": {"field": "group", "type": "nominal", "title": null, "scale": {"domain": ["Gain", "Loss"], "range": ["circle", "triangle-up"]},
                                  "legend": {"orient": "none", "legendX": 1256, "legendY": 516, "labelFontSize": 15, "labelColor": "black", "symbolSize": 60, "symbolFillColor": "black", "symbolStrokeWidth": 0, "rowPadding": 15, "labelOffset": 18}},
                        "size": {"condition": {"test": "datum.group == 'Loss'", "value": 70}, "value": 40}}}
         ]}
      ]
    }
  ],
  "config": {
    "font": "Liberation Sans",
    "view": {"stroke": null},
    "axis": {
      "domain": false, "ticks": false, "labelFlush": false, "labelOverlap": false, "labelBound": false,
      "labelFont": "Liberation Sans", "labelFontSize": 16, "labelColor": "#4d4d4d",
      "titleFont": "Liberation Sans", "titleFontSize": 19, "titleFontWeight": "normal", "titleColor": "black"
    },
    "axisX": {"labelPadding": 7, "titlePadding": 3},
    "axisY": {"labelPadding": 8, "titlePadding": 7},
    "title": {
      "anchor": "start", "frame": "group", "font": "Liberation Sans", "fontSize": 23, "fontWeight": "normal", "color": "black",
      "subtitleFont": "Liberation Sans", "subtitleFontSize": 12, "subtitleColor": "black",
      "subtitlePadding": -30, "subtitleLineHeight": 15, "offset": 8
    },
    "legend": {"labelFont": "Liberation Sans"}
  }
}
